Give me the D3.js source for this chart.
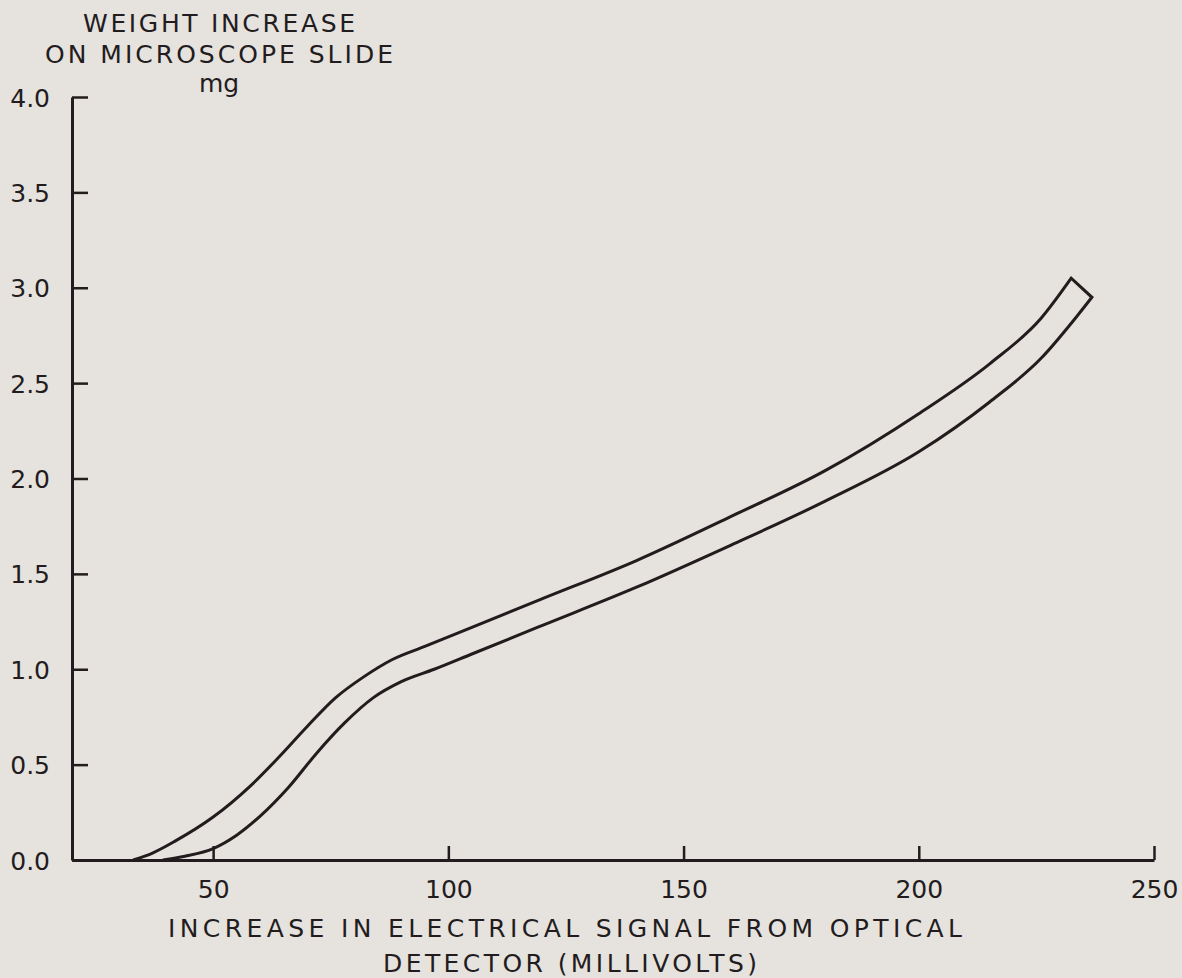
<!DOCTYPE html>
<html>
<head>
<meta charset="utf-8">
<script src="https://cdn.jsdelivr.net/npm/d3@7"></script>
<style>
  html, body { margin: 0; padding: 0; background: #e6e2dd; }
  svg text { font-family: "DejaVu Sans", "Liberation Sans", sans-serif; fill: #231c1e; }
</style>
</head>
<body>
<div id="chart"></div>
<script>
// Values (x in millivolts, y in mg)
const upperMv = [33, 37, 42, 50, 58, 64, 70, 76, 82, 88, 95, 105, 120, 140, 160, 180, 200, 215, 226, 232.4];
const upperMg = [0, 0.035, 0.10, 0.225, 0.39, 0.54, 0.70, 0.85, 0.96, 1.05, 1.12, 1.22, 1.37, 1.57, 1.80, 2.04, 2.34, 2.60, 2.84, 3.05];
const lowerMv = [39.3, 44, 50, 55, 60, 66, 72, 78, 84, 90, 97, 105, 120, 140, 160, 180, 200, 215, 226, 233.6, 236.8];
const lowerMg = [0, 0.02, 0.06, 0.13, 0.23, 0.38, 0.56, 0.72, 0.85, 0.935, 1.0, 1.08, 1.23, 1.43, 1.65, 1.88, 2.14, 2.40, 2.63, 2.85, 2.95];
const xTicks = [50, 100, 150, 200, 250];
const yTicks = [0, 0.5, 1.0, 1.5, 2.0, 2.5, 3.0, 3.5, 4.0];
const yTitle = ["WEIGHT INCREASE", "ON MICROSCOPE SLIDE", "mg"];
const xTitle = ["INCREASE IN ELECTRICAL SIGNAL FROM OPTICAL", "DETECTOR (MILLIVOLTS)"];

const width = 1182, height = 978;
const ink = "#231c1e";
const fontSize = 25;

const svg = d3.select("#chart").append("svg")
    .attr("width", width)
    .attr("height", height);

const x = d3.scaleLinear().domain([20, 250]).range([72, 1154]);
const y = d3.scaleLinear().domain([0, 4]).range([860, 97]);

// y axis, ticks pointing inward
const yAxisGroup = svg.append("g")
    .attr("transform", `translate(${x(20)},0)`)
    .call(d3.axisLeft(y).tickValues(yTicks).tickFormat(d3.format(".1f"))
        .tickSizeInner(-16).tickSizeOuter(0).tickPadding(22));
yAxisGroup.select(".domain").attr("stroke", ink).attr("stroke-width", 3);
yAxisGroup.selectAll(".tick line").attr("stroke", ink).attr("stroke-width", 2.5);
yAxisGroup.selectAll(".tick text")
    .attr("font-size", fontSize).attr("dy", 9).attr("fill", ink).attr("font-family", null);

// x axis, ticks pointing up
const xAxisGroup = svg.append("g")
    .attr("transform", `translate(0,${y(0)})`)
    .call(d3.axisBottom(x).tickValues(xTicks).tickFormat(d3.format("d"))
        .tickSizeInner(-14).tickSizeOuter(0).tickPadding(0));
xAxisGroup.select(".domain").attr("stroke", ink).attr("stroke-width", 3);
xAxisGroup.selectAll(".tick line").attr("stroke", ink).attr("stroke-width", 2.5);
xAxisGroup.selectAll(".tick text")
    .attr("font-size", fontSize).attr("y", 38).attr("dy", 0).attr("fill", ink).attr("font-family", null);

// axis titles
const yTitleLayout = [{w: 272, b: 32}, {w: 348, b: 63}, {w: null, b: 92}];
svg.append("g").selectAll("text")
    .data(yTitle)
    .join("text")
    .attr("x", 219)
    .attr("y", (d, i) => yTitleLayout[i].b)
    .attr("text-anchor", "middle")
    .attr("font-size", fontSize)
    .each(function(d, i) {
        if (yTitleLayout[i].w) d3.select(this).attr("textLength", yTitleLayout[i].w).attr("lengthAdjust", "spacing");
    })
    .text(d => d);

const xTitleLayout = [{x: 168, w: 794, b: 937}, {x: 383, w: 374, b: 972}];
svg.append("g").selectAll("text")
    .data(xTitle)
    .join("text")
    .attr("x", (d, i) => xTitleLayout[i].x)
    .attr("y", (d, i) => xTitleLayout[i].b)
    .attr("font-size", fontSize)
    .attr("textLength", (d, i) => xTitleLayout[i].w)
    .attr("lengthAdjust", "spacing")
    .text(d => d);

// the calibration band: upper curve, cap, lower curve back down
const upper = upperMv.map((v, i) => [v, upperMg[i]]);
const lower = lowerMv.map((v, i) => [v, lowerMg[i]]);
const line = d3.line()
    .x(d => x(d[0]))
    .y(d => y(d[1]))
    .curve(d3.curveMonotoneX);

const bandPath = line(upper) + line(lower.slice().reverse()).replace(/^M/, "L");
svg.append("path")
    .attr("d", bandPath)
    .attr("fill", "none")
    .attr("stroke", ink)
    .attr("stroke-width", 3)
    .attr("stroke-linejoin", "miter");
</script>
</body>
</html>
